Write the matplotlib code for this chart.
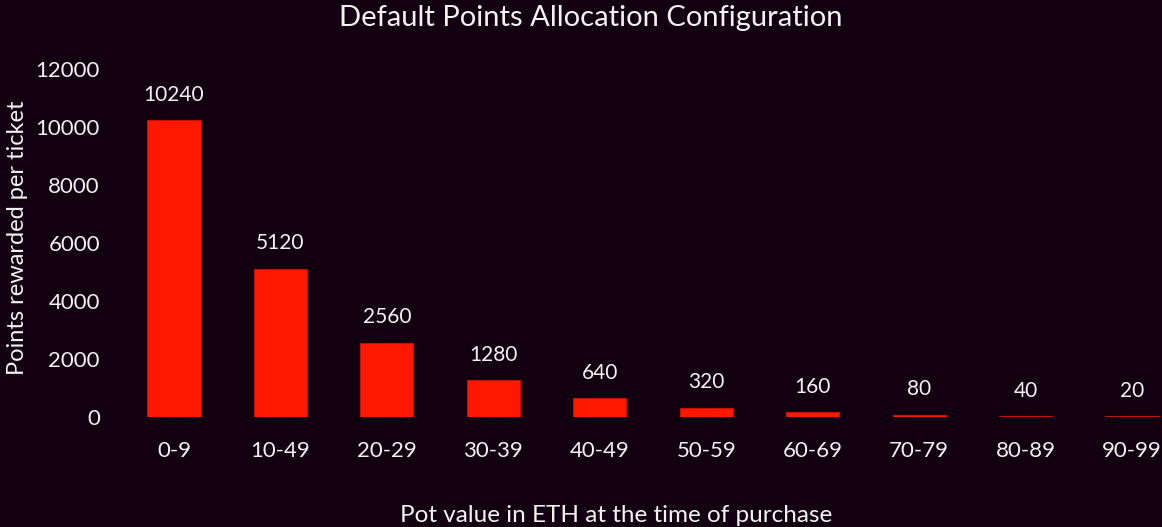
import matplotlib
matplotlib.use("Agg")
import matplotlib.pyplot as plt

categories = ["0-9", "10-49", "20-29", "30-39", "40-49", "50-59", "60-69", "70-79", "80-89", "90-99"]
points = [10240, 5120, 2560, 1280, 640, 320, 160, 80, 40, 20]
y_ticks = [0, 2000, 4000, 6000, 8000, 10000, 12000]

BG = "#120010"
BAR = "#FF1800"
TXT = "#F2F2F2"

plt.rcParams['font.family'] = ['Lato', 'DejaVu Sans']

W, H = 1162, 527
fig = plt.figure(figsize=(W / 100, H / 100), dpi=100, facecolor=BG)
left, right = 120.75, 1185.25
bottom, top = 417, 69
ax = fig.add_axes([left / W, (H - bottom) / H, (right - left) / W, (bottom - top) / H])
ax.set_facecolor(BG)

x = list(range(len(categories)))
bars = ax.bar(x, points, width=0.5, color=BAR, edgecolor="#C01008", linewidth=0.8)
for xi, v in zip(x, points):
    ax.annotate(str(v), (xi, v), xytext=(0, 11), textcoords="offset points",
                ha="center", va="bottom", color=TXT, fontsize=15)

ax.set_xlim(-0.5, len(categories) - 0.5)
ax.set_ylim(0, 12000)
ax.set_xticks(x)
ax.set_xticklabels(categories)
ax.set_yticks(y_ticks)
ax.tick_params(axis="both", length=0, colors=TXT, labelsize=16)
ax.tick_params(axis="x", pad=17)
ax.tick_params(axis="y", pad=15)
for s in ax.spines.values():
    s.set_visible(False)

fig.text(591 / W, 1 - 18 / H, "Default Points Allocation Configuration", ha="center", va="center",
         color=TXT, fontsize=21)
fig.text(616 / W, 1 - 515 / H, "Pot value in ETH at the time of purchase", ha="center", va="center",
         color=TXT, fontsize=17.5)
fig.text(18 / W, 1 - 238 / H, "Points rewarded per ticket", ha="center", va="center",
         rotation=90, color=TXT, fontsize=17)

fig.savefig("out.png", dpi=100, facecolor=BG)
